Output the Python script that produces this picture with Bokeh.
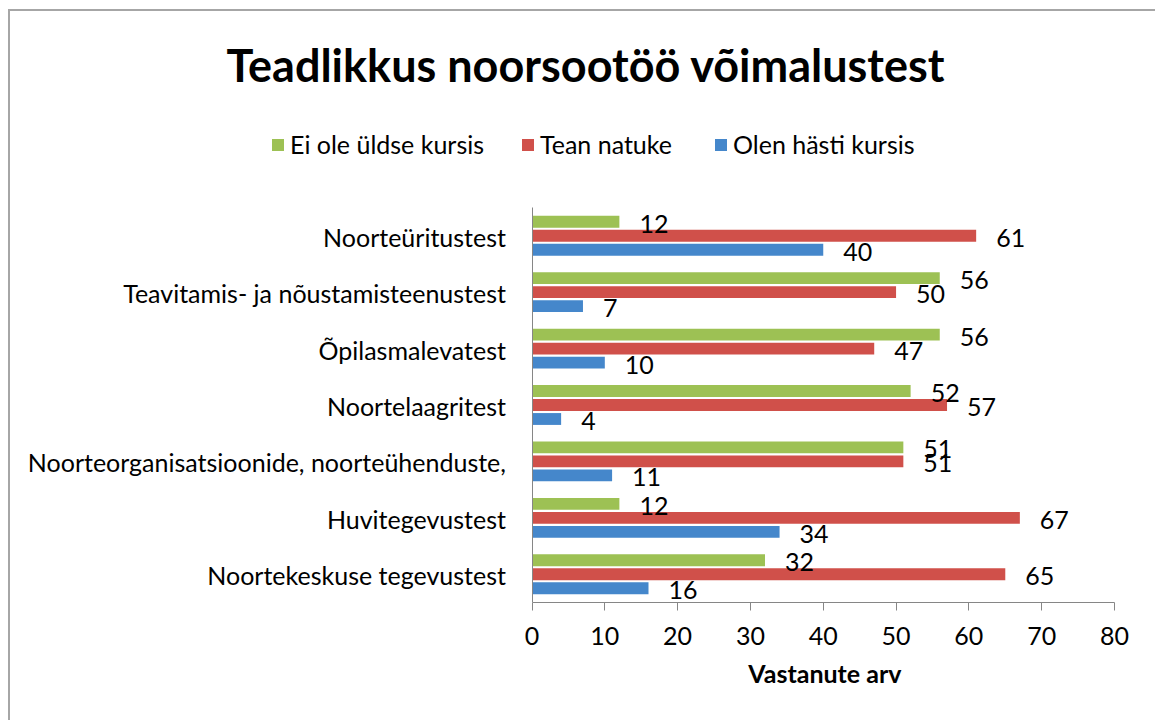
from bokeh.plotting import figure
from bokeh.models import (ColumnDataSource, Range1d, LabelSet, Label, Title,
                          Legend, LegendItem, FixedTicker)
from bokeh.transform import dodge
from bokeh.core.properties import value
from bokeh.embed import file_html
from bokeh.resources import INLINE

# ---- data (top to bottom as in the chart) ----
categories = ["Noorteüritustest", "Teavitamis- ja nõustamisteenustest", "Õpilasmalevatest",
              "Noortelaagritest", "Noorteorganisatsioonide, noorteühenduste,",
              "Huvitegevustest", "Noortekeskuse tegevustest"]
ei_ole = [12, 56, 56, 52, 51, 12, 32]        # Ei ole üldse kursis
tean = [61, 50, 47, 57, 51, 67, 65]          # Tean natuke
olen = [40, 7, 10, 4, 11, 34, 16]            # Olen hästi kursis
series_names = ["Ei ole üldse kursis", "Tean natuke", "Olen hästi kursis"]
x_ticks = [0, 10, 20, 30, 40, 50, 60, 70, 80]
title_text = "Teadlikkus noorsootöö võimalustest"
x_title = "Vastanute arv"

FONT = "Lato"
GREEN = "#9DC154"
RED = "#D0504A"
BLUE = "#4587CB"
FS = "25px"

# ---- layout (page pixels) ----
OX, OY = 10, 11                 # canvas origin on page (after css margin + border)
W, H = 1147, 711
MB_L, MB_R, MB_T, MB_B = 10, 0, 0, 120
F_L = OX + MB_L; F_R = OX + W - MB_R; F_T = OY + MB_T; F_B = OY + H - MB_B
AX0, AX80 = 531.5, 1114.0       # where x=0 and x=80 lie
CAT_TOP, CAT_BOT = 207.0, F_B   # extent of the category area
n = len(categories)
ppx = (AX80 - AX0) / 80.0
ppy = (CAT_BOT - CAT_TOP) / n
x_start = 0 - (AX0 - F_L) / ppx
x_end = 80 + (F_R - AX80) / ppx
y_start = -0.5
y_end = (n - 0.5) + (CAT_TOP - F_T) / ppy

src = ColumnDataSource(dict(
    cat=categories,
    y=[n - 1 - i for i in range(n)],
    g=ei_ole, r=tean, b=olen,
    gt=[str(v) for v in ei_ole], rt=[str(v) for v in tean], bt=[str(v) for v in olen],
))

p = figure(width=W, height=H, output_backend="svg", toolbar_location=None,
           x_range=Range1d(x_start, x_end), y_range=Range1d(y_start, y_end), title=None,
           min_border_left=MB_L, min_border_right=MB_R, min_border_top=MB_T,
           min_border_bottom=MB_B,
           styles={"margin-left": "8px", "margin-top": "9px",
                   "border-top": "2px solid #A6A6A6", "border-left": "2px solid #A6A6A6"})

p.outline_line_color = None
p.xgrid.grid_line_color = None
p.ygrid.grid_line_color = None
p.background_fill_color = "white"
p.border_fill_color = "white"

PITCH = 0.248
BH = 0.21
rg = p.hbar(y=dodge("y", PITCH), right="g", left=0, height=BH,
            source=src, fill_color=GREEN, line_color=None)
rr = p.hbar(y=dodge("y", 0.0), right="r", left=0, height=BH,
            source=src, fill_color=RED, line_color=None)
rb = p.hbar(y=dodge("y", -PITCH), right="b", left=0, height=BH,
            source=src, fill_color=BLUE, line_color=None)

for fld, txt, off in [("g", "gt", PITCH), ("r", "rt", 0.0), ("b", "bt", -PITCH)]:
    p.add_layout(LabelSet(x=fld, y=dodge("y", off), text=txt, source=src,
                          x_offset=20, y_offset=-2, text_align="left", text_baseline="middle",
                          text_font=value(FONT), text_font_size=value(FS), text_color="black"))

# category names beside the value axis
p.add_layout(LabelSet(x=value(0), y="y", text="cat", source=src,
                      x_offset=-26, y_offset=-1, text_align="right", text_baseline="middle",
                      text_font=value(FONT), text_font_size=value(FS), text_color="black"))

# axes
AXC = "#868686"
p.xaxis.bounds = (0, 80)
p.xaxis.ticker = FixedTicker(ticks=x_ticks)
p.xaxis.axis_line_color = AXC
p.xaxis.major_tick_line_color = AXC
p.xaxis.major_tick_out = 8
p.xaxis.major_tick_in = 0
p.xaxis.minor_tick_line_color = None
p.xaxis.major_label_standoff = 16
p.xaxis.major_label_text_font = FONT
p.xaxis.major_label_text_font_size = FS
p.xaxis.major_label_text_color = "black"

# axis title, centred under the 0..80 scale
p.add_layout(Title(text=x_title, align="left", offset=(AX0 + AX80) / 2 - 75 - F_L,
                   text_font=FONT, text_font_size="25px", text_font_style="bold",
                   text_color="black", standoff=17), "below")

p.yaxis.fixed_location = 0
p.yaxis.bounds = (-0.5, n - 0.5)
p.yaxis.ticker = FixedTicker(ticks=[])
p.yaxis.axis_line_color = AXC
p.yaxis.major_tick_line_color = None
p.yaxis.minor_tick_line_color = None
p.yaxis.major_tick_out = 0
p.yaxis.major_tick_in = 0
p.yaxis.major_label_standoff = 0
p.yaxis.major_label_text_font_size = "0px"

# title (frame-relative screen units)
p.add_layout(Label(x=585.5 - F_L, y=F_B - 64, x_units="screen", y_units="screen",
                   text=title_text, text_font=FONT, text_font_size="45px",
                   text_font_style="bold", text_align="center",
                   text_baseline="middle", text_color="black"))

# legend: one per series, placed like the reference
sq_left = [270, 520, 713]
LEG_H = 30
for name, rend, lx in zip(series_names, [rg, rr, rb], sq_left):
    lg = Legend(items=[LegendItem(label=name, renderers=[rend])],
                location=(lx - F_L, F_B - (144 + LEG_H / 2)), orientation="horizontal",
                glyph_width=15, glyph_height=15, label_standoff=5,
                padding=0, margin=0, border_line_color=None,
                background_fill_alpha=0,
                label_text_font=FONT, label_text_font_size=FS,
                label_text_color="black")
    p.add_layout(lg)

open("out.html", "w").write(file_html(p, INLINE))
